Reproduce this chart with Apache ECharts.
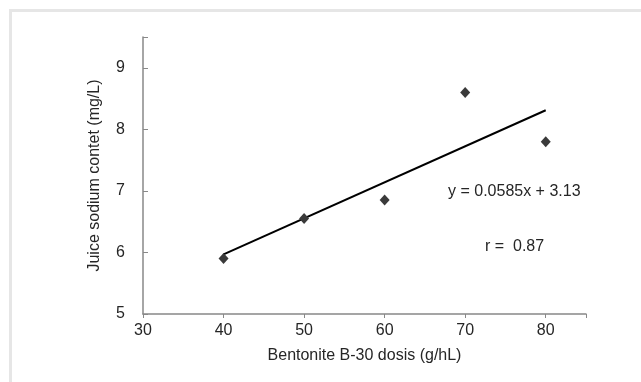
<!DOCTYPE html>
<html>
<head>
<meta charset="utf-8">
<script src="https://cdn.jsdelivr.net/npm/echarts@6/dist/echarts.min.js"></script>
<style>
html,body{margin:0;padding:0;background:#fff;}
#frame{position:absolute;left:9px;top:9px;width:632px;height:373px;border-top:3px solid #e6e6e6;border-left:3px solid #e6e6e6;box-sizing:border-box;}
#chart{position:absolute;left:0;top:0;width:641px;height:382px;}
</style>
</head>
<body>
<div id="frame"></div>
<div id="chart"></div>
<script>
// Data
const doseX = [40, 50, 60, 70, 80];
const sodiumY = [5.9, 6.55, 6.85, 8.6, 7.8];
const trendX = [40, 80];
const trendY = [5.97, 8.31];
const xTicks = [30, 40, 50, 60, 70, 80];
const yTicks = [5, 6, 7, 8, 9];
const equationText = 'y = 0.0585x + 3.13';
const rText = 'r =  0.87';

const FONT = '"Liberation Sans", Arial, sans-serif';
const TXT = '#262626';
const chart = echarts.init(document.getElementById('chart'), null, {renderer: 'canvas'});
chart.setOption({
  backgroundColor: 'transparent',
  animation: false,
  grid: {left: 143, right: 55, top: 37, bottom: 68},
  xAxis: {
    type: 'value', min: 30, max: 85, interval: 10,
    name: 'Bentonite B-30 dosis (g/hL)', nameLocation: 'middle', nameGap: 34,
    nameTextStyle: {fontFamily: FONT, fontSize: 16, color: TXT},
    axisLine: {show: true, lineStyle: {color: '#888', width: 1.5}},
    axisTick: {show: true, inside: false, length: 4, lineStyle: {color: '#888'}},
    axisLabel: {fontFamily: FONT, fontSize: 16, color: TXT, margin: 9,
      formatter: v => xTicks.includes(v) ? String(v) : ''},
    splitLine: {show: false}
  },
  yAxis: {
    type: 'value', min: 5, max: 9.5, interval: 1,
    name: 'Juice sodium contet (mg/L)', nameLocation: 'middle', nameGap: 40, nameRotate: 90,
    nameTextStyle: {fontFamily: FONT, fontSize: 16, color: TXT},
    axisLine: {show: true, lineStyle: {color: '#888', width: 1.5}},
    axisTick: {show: true, inside: true, length: 5, lineStyle: {color: '#888'}},
    axisLabel: {fontFamily: FONT, fontSize: 16, color: TXT, margin: 18,
      formatter: v => yTicks.includes(v) ? String(v) : ''},
    splitLine: {show: false}
  },
  series: [
    {
      type: 'line',
      data: trendX.map((x, i) => [x, trendY[i]]),
      symbol: 'none',
      lineStyle: {color: '#000', width: 2},
      z: 2
    },
    {
      type: 'scatter',
      data: doseX.map((x, i) => [x, sodiumY[i]]),
      symbol: 'diamond',
      symbolSize: [10, 11],
      itemStyle: {color: '#3a3a3a', opacity: 1},
      z: 3
    }
  ],
  graphic: [
    {type: 'text', left: 448, top: 184,
      style: {text: equationText, font: '16px ' + FONT, fill: TXT}},
    {type: 'text', left: 485, top: 239,
      style: {text: rText, font: '16px ' + FONT, fill: TXT}}
  ]
});
</script>
</body>
</html>
